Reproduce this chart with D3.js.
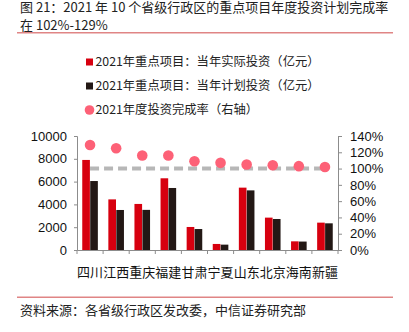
<!DOCTYPE html>
<html><head><meta charset="utf-8">
<script src="https://cdn.jsdelivr.net/npm/d3@7"></script>
<style>
html,body{margin:0;padding:0;background:#fff;}
svg{display:block;font-family:"Liberation Sans","Noto Sans CJK SC",sans-serif;}
</style></head>
<body><svg id="c" width="409" height="332"></svg>
<script>
const categories = ["四川","江西","重庆","福建","甘肃","宁夏","山东","北京","海南","新疆"];
const actualInvest = [7900, 4440, 4040, 6290, 2020, 530, 5470, 2840, 760, 2400];
const planInvest   = [6050, 3510, 3520, 5440, 1840, 470, 5230, 2720, 740, 2340];
const completionRate = [129, 125, 116, 116, 109, 107, 105, 104, 103, 102];
const targetRate = 100;
const leftTicks = [0, 2000, 4000, 6000, 8000, 10000];
const rightTicks = [0, 20, 40, 60, 80, 100, 120, 140];
const seriesNames = ["2021年重点项目：当年实际投资（亿元）","2021年重点项目：当年计划投资（亿元）","2021年度投资完成率（右轴）"];
const titleLines = ["图 21：2021 年 10 个省级行政区的重点项目年度投资计划完成率","在 102%-129%"];
const sourceText = "资料来源：各省级行政区发改委，中信证券研究部";

const RED = "#d7000f", DARK = "#231815", PINK = "#fd6177", GRAY = "#b7b7b7", AX = "#8c8c8c";
const svg = d3.select("#c");
const cjk = '"Noto Sans CJK SC","Liberation Sans",sans-serif';

// title
svg.selectAll("text.title").data(titleLines).join("text")
  .attr("x", 20).attr("y", (d,i)=>12 + i*17.5)
  .attr("font-size", 13).attr("fill", "#222").attr("font-family", cjk)
  .text(d=>d);
svg.append("rect").attr("x",17).attr("y",32).attr("width",376).attr("height",1.5).attr("fill","#e08585");

// legend
const legY = [62, 86, 110];
const lg = svg.append("g");
seriesNames.forEach((name,i)=>{
  if(i<2){
    lg.append("rect").attr("x",86).attr("y",legY[i]-3.5).attr("width",7).attr("height",7).attr("fill", i===0?RED:DARK);
  } else {
    lg.append("circle").attr("cx",89.5).attr("cy",legY[i]).attr("r",4.8).attr("fill",PINK);
  }
  lg.append("text").attr("x",95.5).attr("y",legY[i]+4.3).attr("font-size",12.3).attr("fill","#222")
    .attr("font-family", cjk).text(name);
});

// scales
const x = d3.scaleBand().domain(categories).range([77, 338]).padding(0);
const yL = d3.scaleLinear().domain([0, 10000]).range([250, 136]);
const yR = d3.scaleLinear().domain([0, 140]).range([250, 136]);
const x1 = d3.scaleBand().domain(["a","p"]).range([-7.8, 7.8]).paddingInner(0.04);

// bars
const g = svg.append("g");
g.selectAll("rect.a").data(categories).join("rect")
  .attr("x", (d)=>x(d)+x.bandwidth()/2 + x1("a"))
  .attr("width", x1.bandwidth())
  .attr("y", (d,i)=>yL(actualInvest[i]))
  .attr("height", (d,i)=>yL(0)-yL(actualInvest[i]))
  .attr("fill", RED);
g.selectAll("rect.p").data(categories).join("rect")
  .attr("x", (d)=>x(d)+x.bandwidth()/2 + x1("p"))
  .attr("width", x1.bandwidth())
  .attr("y", (d,i)=>yL(planInvest[i]))
  .attr("height", (d,i)=>yL(0)-yL(planInvest[i]))
  .attr("fill", DARK);

// axes
const axL = svg.append("g").attr("transform","translate(77,0)")
  .call(d3.axisLeft(yL).tickValues(leftTicks).tickSize(3).tickPadding(7).tickFormat(d3.format("d")));
const axR = svg.append("g").attr("transform","translate(338,0)")
  .call(d3.axisRight(yR).tickValues(rightTicks).tickSize(4).tickPadding(8).tickFormat(d=>d+"%"));
const axB = svg.append("g").attr("transform","translate(0,250)")
  .call(d3.axisBottom(x).tickSize(0).tickPadding(0).tickFormat(""));
// category boundary ticks
svg.append("g").selectAll("line").data(d3.range(categories.length+1)).join("line")
  .attr("x1", i=>77 + i*x.step()).attr("x2", i=>77 + i*x.step())
  .attr("y1",250).attr("y2",254).attr("stroke",AX);
[axL,axR,axB].forEach(a=>{
  a.selectAll("path").attr("stroke",AX);
  a.selectAll("line").attr("stroke",AX);
  a.selectAll("text").attr("font-size",13).attr("fill","#111").attr("font-family",'"Liberation Sans",sans-serif');
});

// category labels
svg.append("g").selectAll("text").data(categories).join("text")
  .attr("x", d=>x(d)+x.bandwidth()/2).attr("y", 276.5)
  .attr("text-anchor","middle").attr("font-size",13).attr("fill","#111")
  .attr("font-family", cjk).text(d=>d);

// 100% dashed line
const line = d3.line().x(d=>x(d)+x.bandwidth()/2).y(()=>yR(targetRate));
svg.append("path").datum(categories).attr("d", line)
  .attr("stroke", GRAY).attr("stroke-width", 4).attr("stroke-dasharray","9,5").attr("fill","none");

// completion circles
svg.append("g").selectAll("circle").data(categories).join("circle")
  .attr("cx", d=>x(d)+x.bandwidth()/2).attr("cy",(d,i)=>yR(completionRate[i]))
  .attr("r", 5.3).attr("fill", PINK);

// footer
svg.append("rect").attr("x",17).attr("y",296.5).attr("width",376).attr("height",1.5).attr("fill","#e08585");
svg.append("text").attr("x",20).attr("y",315).attr("font-size",13).attr("fill","#222")
  .attr("font-family", cjk).text(sourceText);
</script></body></html>
